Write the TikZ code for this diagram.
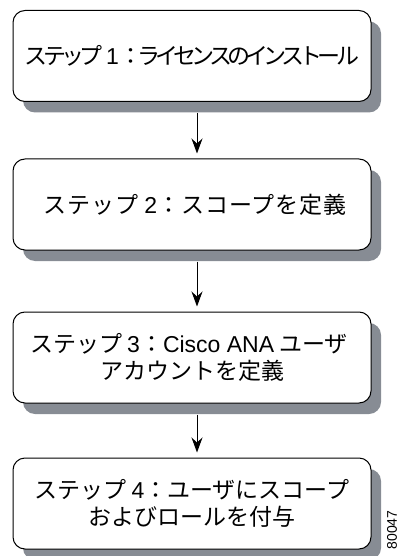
\documentclass[tikz,border=0pt]{standalone}
\usepackage{fontspec}
\setmainfont{Noto Sans CJK JP}
\newfontfamily\latinfont{Liberation Sans}
\newcommand\latn[1]{{\latinfont #1}}
\usetikzlibrary{arrows.meta,shadows}
\definecolor{shadowgray}{HTML}{878C94}
\begin{document}
\begin{tikzpicture}[x=1pt,y=-1pt,
  stepbox/.style={draw=black, line width=1pt, rounded corners=12pt, fill=white,
    minimum width=358pt, minimum height=91pt, align=center, inner sep=0pt,
    font=\fontsize{23}{27}\selectfont,
    drop shadow={shadow xshift=10pt, shadow yshift=-11pt, fill=shadowgray, opacity=1}},
  tight/.style={font=\fontsize{23}{27}\selectfont\addfontfeature{LetterSpace=-21}},
  loose/.style={font=\fontsize{23}{27}\selectfont\addfontfeature{LetterSpace=4}},
  flow/.style={-{Stealth[length=15pt,width=11pt,inset=5pt]}, line width=1pt},
  figid/.style={rotate=90, font=\latinfont\fontsize{14}{14}\selectfont, inner sep=0pt}]
\useasboundingbox (0,0) rectangle (400,556);
\node[stepbox, tight] (s1) at (192,56) {ステップ\,\latn{1}：ライセンスのインストール};
\node[stepbox, loose] (s2) at (192,204.5) {\hspace*{6pt}ステップ \latn{2}：スコープを定義};
\node[stepbox] (s3) at (192,357.5) {ステップ \latn{3}：\latn{Cisco ANA} ユーザ\hspace*{6pt}\\アカウントを定義};
\node[stepbox] (s4) at (192,503.5) {ステップ \latn{4}：ユーザにスコープ\\およびロールを付与};
\draw[flow] ([xshift=5pt,yshift=-11pt]s1.south) -- ([xshift=5pt,yshift=5pt]s2.north);
\draw[flow] ([xshift=5pt,yshift=-11pt]s2.south) -- ([xshift=5pt,yshift=5pt]s3.north);
\draw[flow] ([xshift=5pt,yshift=-11pt]s3.south) -- ([xshift=5pt,yshift=5pt]s4.north);
\node[figid] (figno) at (392,530) {80047};
\end{tikzpicture}
\end{document}
